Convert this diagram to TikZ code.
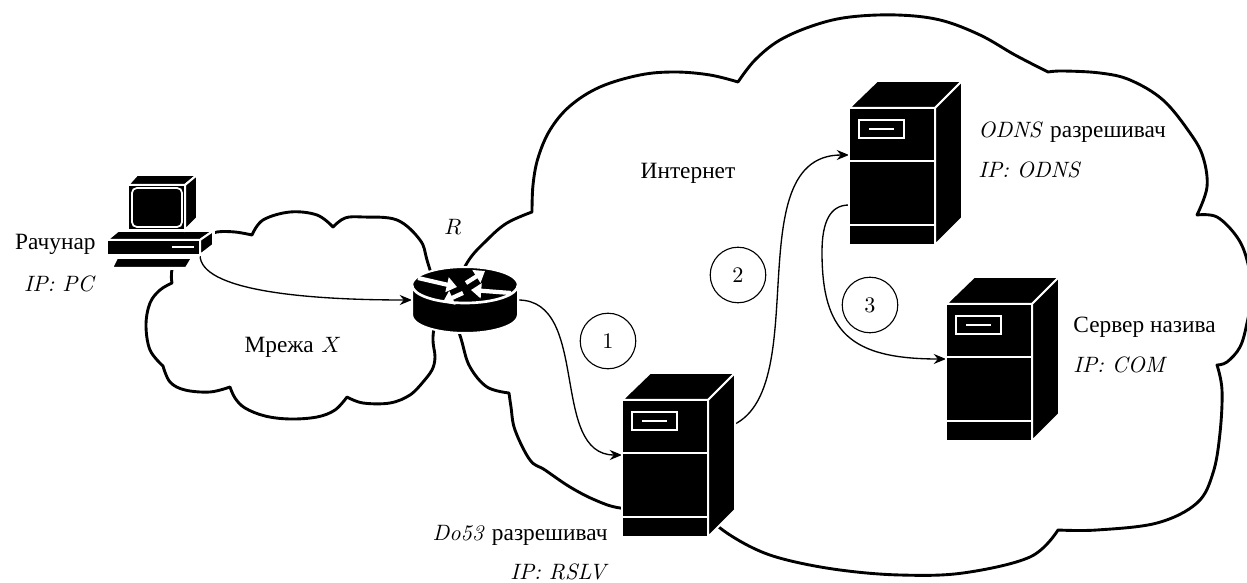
\documentclass[tikz,border=0pt]{standalone}
\usepackage{fontspec}
\newfontfamily\cyr{Liberation Serif}[Scale=1.05]
\usetikzlibrary{arrows.meta,calc}
\pgfdeclarelayer{clouds}
\pgfdeclarelayer{links}
\pgfsetlayers{clouds,links,main}

\tikzset{
  cloudline/.style={line width=1.3pt, line join=round},
  puff/.style={smooth, tension=0.6},
  link/.style={line width=0.6pt, -{Stealth[length=5.5pt,width=4.5pt]}},
  stepnum/.style={circle, draw, line width=0.5pt, minimum size=25pt, inner sep=0pt},
  lbl/.style={inner sep=0pt},
  iconpart/.style={fill=black, draw=white, line width=0.9pt},
  whiteline/.style={draw=white, line width=0.9pt},
  srvfront/.style={iconpart, rectangle, minimum width=38.7pt, minimum height=61.65pt,
    inner sep=0pt, outer sep=0pt, anchor=north west},
  routerarrow/.style={white, line width=1.9pt, -{Triangle[length=4.6pt,width=6.6pt]}},
}

% server tower: #1 name, #2 top-left corner of the front face
\newcommand\drawserver[2]{%
  \node[srvfront] (#1) at (#2) {};
  \draw[iconpart] (#1.north west) -- ++(28,27) -- ++(85,0) -- (#1.north east) -- cycle;
  \draw[iconpart] (#1.north east) -- ++(27,27) -- ++(0,-137) -- (#1.south east) -- cycle;
  \draw[whiteline] ($(#1.north west)+(0,-53)$) -- ++(86,0);
  \draw[whiteline] ($(#1.north west)+(0,-117)$) -- ++(86,0);
  \draw[whiteline] ($(#1.north west)+(10,-12)$) rectangle ++(45,-18);
  \draw[whiteline] ($(#1.north west)+(20,-21)$) -- ++(25,0);
}

\begin{document}
\begin{tikzpicture}[x=0.45pt,y=0.45pt]
\useasboundingbox (0,0) rectangle (1247,582);

% ---------- clouds ----------
\begin{pgfonlayer}{clouds}
% Internet
\draw[cloudline]
  plot[puff] coordinates {(532,370) (533,397) (538,424) (550,452) (570,476) (600,495) (640,507) (675,510) (710,507) (738,500)}
  -- plot[puff] coordinates {(738,500) (755,522) (780,542) (815,557) (850,565) (897,567) (940,562) (980,547) (1015,527) (1048,510)}
  -- plot[puff] coordinates {(1048,510) (1063,511) (1100,509) (1130,502) (1163,482) (1190,449) (1203,425) (1207,395) (1197,367)}
  -- plot[puff] coordinates {(1197,367) (1217,365) (1237,345) (1247,322) (1252,290) (1247,259) (1240,235) (1227,220) (1217,217)}
  -- plot[puff] coordinates {(1217,217) (1222,192) (1220,149) (1213,109) (1197,79) (1157,59) (1097,52) (1058,52)}
  -- plot[puff] coordinates {(1058,52) (1030,25) (963,9) (900,7) (840,12) (787,22) (753,34) (720,54) (700,75)}
  -- plot[puff] coordinates {(700,75) (660,72) (620,74) (595,82) (570,95) (545,112) (530,122) (515,152) (511,175) (509,189)}
  -- plot[puff] coordinates {(509,189) (487,195) (470,215) (462,240) (452,282) (467,319) (487,342) (507,359) (532,370)}
  -- cycle;
% local network X
\draw[cloudline]
  plot[puff] coordinates {(252,347) (263,362) (290,370) (317,367) (333,355)}
  -- plot[puff] coordinates {(333,355) (345,364) (363,365) (397,362) (420,342) (427,322) (437,282) (433,245) (435,225) (432,212) (423,200)}
  -- plot[puff] coordinates {(423,200) (410,187) (390,179) (363,179) (347,185)}
  -- plot[puff] coordinates {(347,185) (335,172) (317,165) (290,163) (265,166) (245,174) (235,184) (230,195)}
  -- plot[puff] coordinates {(230,195) (210,190) (185,192) (170,200) (163,216)}
  -- plot[puff] coordinates {(163,216) (150,232) (146,257) (150,279) (160,292) (172,299)}
  -- plot[puff] coordinates {(172,299) (173,315) (190,335) (205,345) (217,350) (235,350) (252,347)}
  -- cycle;
% clear area behind the computer
\fill[white] (105,312) rectangle (215,410);
\end{pgfonlayer}

% ---------- computer ----------
\draw[iconpart] (107,342) -- (118,351) -- (213,351) -- (200,342) -- cycle;
\node[iconpart, rectangle, inner sep=0pt, outer sep=0pt, minimum width=41.85pt,
  minimum height=6.75pt, anchor=south west] (pcbase) at (107,327) {};
\draw[iconpart] (200,342) -- (213,351) -- (213,337) -- (200,327) -- cycle;
\draw[white, line width=1pt] (172,335) -- (194,335);
\draw[iconpart] (117,324) -- (192,324) -- (186,314) -- (112,314) -- cycle;
\draw[iconpart] (128,397) -- (137,407) -- (197,407) -- (185,397) -- cycle;
\draw[iconpart] (185,397) -- (197,407) -- (197,364) -- (185,352) -- cycle;
\draw[iconpart] (128,352) rectangle (185,397);
\draw[white, line width=0.8pt, rounded corners=2.2pt] (132,355) rectangle (182,394);

% ---------- router ----------
\draw[iconpart] (412,297) -- (412,267)
  arc[start angle=180, end angle=360, x radius=23.85pt, y radius=8.1pt]
  -- (518,297) arc[start angle=0, end angle=180, x radius=23.85pt, y radius=8.1pt] -- cycle;
\draw[white, line width=1.2pt] (412,297)
  arc[start angle=180, end angle=360, x radius=23.85pt, y radius=8.1pt];
\draw[routerarrow] (418,304) -- (457,295);
\draw[routerarrow] (511,289) -- (471,292);
\draw[routerarrow] (466,299) -- (485,311);
\draw[routerarrow] (463,289) -- (443,280);
\node[inner sep=0pt, outer sep=0pt, minimum width=47.7pt, minimum height=29.7pt] (router) at (465,282) {};

% ---------- servers ----------
\drawserver{do53}{622,182}
\drawserver{odns}{849,474}
\drawserver{com}{946,278}

% ---------- connections ----------
\begin{pgfonlayer}{links}
\draw[link] (pcbase.south east) .. controls +(0,-35) and +(-110,0) .. (router.west);
\draw[link] (router.east) to[out=0, in=180] ($(do53.north west)+(0,-55)$);
\draw[link] ($(do53.north east)+(0,-30)$) to[out=0, in=180] ($(odns.north west)+(0,-47)$);
\draw[link] ($(odns.north west)+(0,-97)$) .. controls +(-19,0) and +(0,30) .. ++(-27,-47)
  .. controls +(0,-80) and +(-96,0) .. ($(com.north west)+(0,-55)$);
\end{pgfonlayer}

% ---------- step numbers ----------
\node[stepnum] (s1) at (608,241) {1};
\node[stepnum] (s2) at (738,307) {2};
\node[stepnum] (s3) at (870,277) {3};

% ---------- labels ----------
\node[lbl, anchor=base east] (pcname) at (96,332) {\cyr Рачунар};
\node[lbl, anchor=base east] (pcip) at (96,290) {\textit{IP: PC}};
\node[lbl, anchor=base] (rname) at (453,347) {$R$};
\node[lbl, anchor=base] (netx) at (293,229) {{\cyr Мрежа} $X$};
\node[lbl, anchor=base] (inet) at (688,403) {\cyr Интернет};
\node[lbl, anchor=base west] (odnsname) at (978,444) {\textit{ODNS} {\cyr разрешивач}};
\node[lbl, anchor=base west] (odnsip) at (978,404) {\textit{IP: ODNS}};
\node[lbl, anchor=base west] (comname) at (1073,249) {\cyr Сервер назива};
\node[lbl, anchor=base west] (comip) at (1073,209) {\textit{IP: COM}};
\node[lbl, anchor=base east] (do53name) at (608,42) {\textit{Do53} {\cyr разрешивач}};
\node[lbl, anchor=base east] (do53ip) at (609,2) {\textit{IP: RSLV}};
\end{tikzpicture}
\end{document}
